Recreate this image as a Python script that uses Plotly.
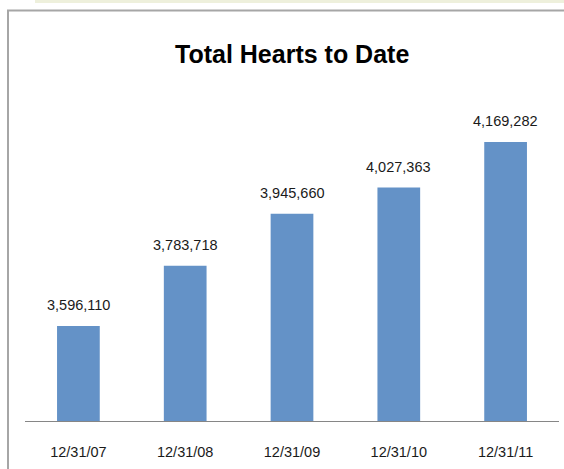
import plotly.graph_objects as go

categories = ["12/31/07", "12/31/08", "12/31/09", "12/31/10", "12/31/11"]
hearts = [3596110, 3783718, 3945660, 4027363, 4169282]
value_labels = ["3,596,110", "3,783,718", "3,945,660", "4,027,363", "4,169,282"]
title_text = "Total Hearts to Date"

W, H = 564, 469
L, R, T, B = 25, 5, 100, 48
pw, ph = W - L - R, H - T - B

def px_x(x):
    return (x - L) / pw

def px_y(y):
    return (H - B - y) / ph

FONT = "Liberation Sans, Arial, sans-serif"

fig = go.Figure()
fig.add_trace(go.Bar(
    x=categories, y=hearts,
    marker=dict(color="#6492C7", line=dict(width=0)),
    width=0.4,
    hoverinfo="skip",
))

annotations = []
for c, v, lab in zip(categories, hearts, value_labels):
    annotations.append(dict(
        x=c, y=v, xref="x", yref="y", text=lab, showarrow=False,
        yanchor="bottom", yshift=11,
        font=dict(family=FONT, size=14.5, color="#1a1a1a"),
    ))

annotations.append(dict(
    x=px_x(291.5), y=px_y(54), xref="paper", yref="paper",
    text="<b>" + title_text + "</b>", showarrow=False,
    xanchor="center", yanchor="middle",
    font=dict(family=FONT, size=25, color="#000000"),
))

shapes = [
    dict(type="rect", xref="paper", yref="paper",
         x0=px_x(35), x1=px_x(564), y0=px_y(0), y1=px_y(3),
         fillcolor="#EEF0DC", line=dict(width=0), layer="below"),
    dict(type="line", xref="paper", yref="paper",
         x0=px_x(8), x1=px_x(8), y0=px_y(10), y1=px_y(469),
         line=dict(color="#A6A6A6", width=2)),
    dict(type="line", xref="paper", yref="paper",
         x0=px_x(7), x1=px_x(564), y0=px_y(10.5), y1=px_y(10.5),
         line=dict(color="#A6A6A6", width=2)),
]

fig.update_layout(
    width=W, height=H,
    margin=dict(l=L, r=R, t=T, b=B, pad=0),
    paper_bgcolor="white", plot_bgcolor="white",
    showlegend=False,
    annotations=annotations,
    shapes=shapes,
    bargap=0.6,
    xaxis=dict(
        showline=True, linecolor="#868686", linewidth=1,
        showgrid=False, ticks="", zeroline=False,
        tickfont=dict(family=FONT, size=14.5, color="#1a1a1a"),
        ticklabelstandoff=18,
    ),
    yaxis=dict(
        range=[3300000, 4300000], visible=False, showgrid=False,
        zeroline=False,
    ),
)

fig.write_html("out.html",
               config={"displayModeBar": False},
               post_script="document.body.style.margin='0';document.body.style.overflow='hidden';")
